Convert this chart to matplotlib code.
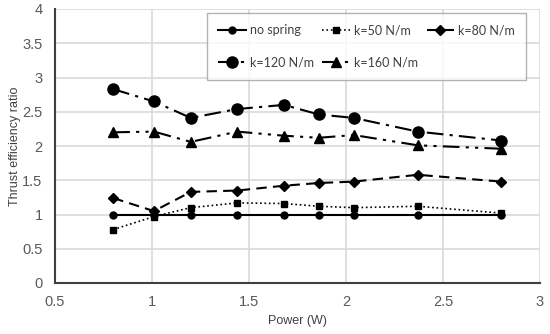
import matplotlib
matplotlib.use("Agg")
import matplotlib.pyplot as plt

plt.rcParams['font.family'] = ['Liberation Sans', 'DejaVu Sans']

power = [0.80, 1.01, 1.20, 1.44, 1.68, 1.86, 2.04, 2.37, 2.80]
no_spring = [1.0, 1.0, 1.0, 1.0, 1.0, 1.0, 1.0, 1.0, 1.0]
k50 = [0.78, 0.97, 1.10, 1.17, 1.16, 1.12, 1.10, 1.12, 1.02]
k80 = [1.24, 1.05, 1.33, 1.35, 1.42, 1.46, 1.48, 1.58, 1.48]
k120 = [2.83, 2.65, 2.41, 2.54, 2.60, 2.46, 2.41, 2.21, 2.08]
k160 = [2.20, 2.21, 2.06, 2.21, 2.15, 2.12, 2.16, 2.01, 1.96]

labels = ['no spring', 'k=50 N/m', 'k=80 N/m', 'k=120 N/m', 'k=160 N/m']
xticks = [0.5, 1, 1.5, 2, 2.5, 3]
yticks = [0, 0.5, 1, 1.5, 2, 2.5, 3, 3.5, 4]

fig = plt.figure(figsize=(5.5, 3.34), dpi=100)
ax = fig.add_axes([55/550, 1 - 283/334, (540-55)/550, (283-9)/334])

c = 'black'
h0, = ax.plot(power, no_spring, '-', color=c, lw=1.5, marker='o', ms=5, label=labels[0])
h1, = ax.plot(power, k50, ':', color=c, lw=1.2, marker='s', ms=5, label=labels[1])
h2, = ax.plot(power, k80, '--', color=c, lw=1.5, dashes=(5, 3), marker='D', ms=5, label=labels[2])
h3, = ax.plot(power, k120, '-.', color=c, lw=1.5, dashes=(8, 3, 1.5, 3), marker='o', ms=8, label=labels[3])
h4, = ax.plot(power, k160, color=c, lw=1.5, dashes=(8, 3, 1.5, 3, 1.5, 3), marker='^', ms=7, label=labels[4])

ax.set_xlim(0.5, 3)
ax.set_ylim(0, 4)
ax.set_xticks(xticks)
ax.set_xticklabels([f'{t:g}' for t in xticks])
ax.set_yticks(yticks)
ax.set_yticklabels([f'{t:g}' for t in yticks])
ax.grid(True, color='#d9d9d9', lw=1.2)
ax.set_axisbelow(True)
for s in ['top', 'right']:
    ax.spines[s].set_visible(False)
ax.spines['left'].set_color('#404040')
ax.spines['bottom'].set_color('#404040')
ax.spines['left'].set_linewidth(1.5)
ax.spines['bottom'].set_linewidth(1.5)
ax.tick_params(length=0, labelsize=10.5, colors='#595959', pad=9)
ax.set_xlabel('Power (W)', fontsize=9, color='#404040', labelpad=4)
ax.set_ylabel('Thrust efficiency ratio', fontsize=9, color='#404040', labelpad=1)

leg = ax.legend([h0, h3, h1, h4, h2], [labels[0], labels[3], labels[1], labels[4], labels[2]],
                ncol=3, loc='upper left', bbox_to_anchor=((207-55)/485, 1 - 4/274),
                prop={'family': ['Lato', 'DejaVu Sans'], 'size': 9},
                frameon=True, fancybox=False, edgecolor='#a0a0a0',
                handlelength=2.2, columnspacing=0.7, handletextpad=0.3, borderpad=0.9,
                labelspacing=1.6, borderaxespad=0)
for t in leg.get_texts():
    t.set_color('#404040')
leg.get_frame().set_linewidth(1.0)

fig.savefig('out.png', dpi=100)
